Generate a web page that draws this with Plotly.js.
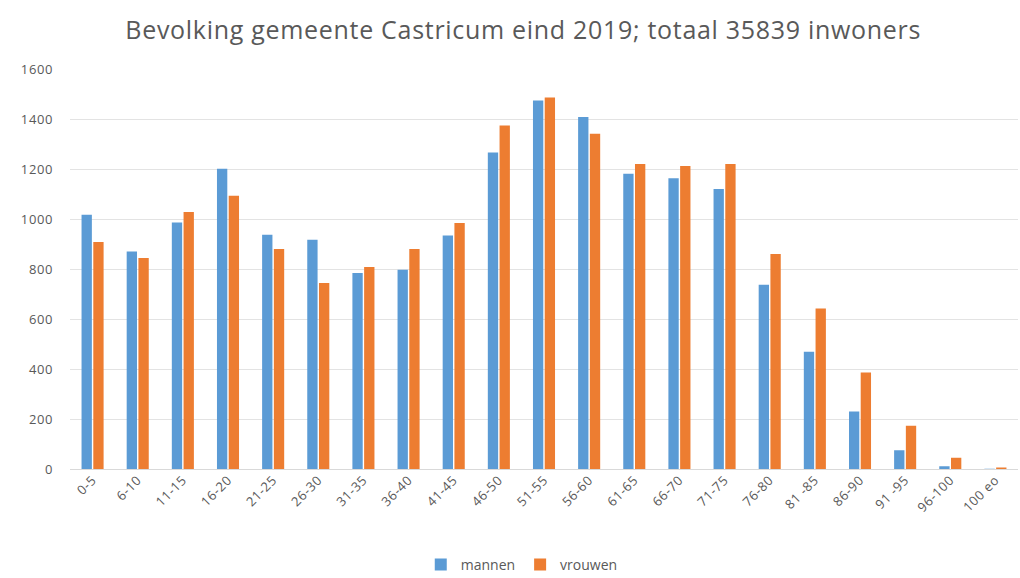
<!DOCTYPE html>
<html>
<head>
<meta charset="utf-8">
<script src="https://cdn.plot.ly/plotly-3.0.1.min.js"></script>
<style>html,body{margin:0;padding:0;background:#fff;}#chart{width:1020px;height:578px;}
.gtitle{letter-spacing:0.7px;}
.ytick text,.xtick text{letter-spacing:0.6px;}
</style>
</head>
<body>
<div id="chart"></div>
<script>
const categories = ["0-5","6-10","11-15","16-20","21-25","26-30","31-35","36-40","41-45","46-50","51-55","56-60","61-65","66-70","71-75","76-80","81 -85","86-90","91 -95","96-100","100 eo"];
const mannen = [1017,870,986,1201,937,917,784,797,934,1266,1474,1408,1181,1163,1120,737,469,230,75,11,1];
const vrouwen = [908,844,1028,1093,880,744,808,880,984,1374,1486,1341,1220,1212,1220,860,642,386,173,45,6];
const titleText = "Bevolking gemeente Castricum eind 2019; totaal 35839 inwoners";

const traces = [
  {type:"bar", name:"mannen", x:categories, y:mannen, marker:{color:"#5B9BD5"}},
  {type:"bar", name:"vrouwen", x:categories, y:vrouwen, marker:{color:"#ED7D31"}}
];
const layout = {
  width:1020, height:578,
  paper_bgcolor:"#fff", plot_bgcolor:"#fff",
  font:{family:"Open Sans, Liberation Sans, sans-serif", color:"#595959", size:13},
  title:{text:titleText, x:0.513, xanchor:"center", y:0.948, yanchor:"middle", font:{size:25, color:"#595959"}},
  margin:{l:70, r:2, t:69, b:109, autoexpand:false},
  barmode:"group", bargap:0.48, bargroupgap:0.12,
  xaxis:{type:"category", tickangle:-45, showgrid:false, showline:false, ticks:"", tickfont:{size:13, color:"#595959"}},
  yaxis:{range:[0,1600], dtick:200, showgrid:true, gridcolor:"#e3e3e3", zeroline:true, zerolinecolor:"#d9d9d9", showline:false, ticks:"", ticklabelstandoff:16, tickfont:{size:13, color:"#595959"}},
  legend:{orientation:"h", x:0.37, xanchor:"left", y:-0.24, yanchor:"middle", font:{size:14, color:"#595959"}, itemwidth:30},
  showlegend:true
};
Plotly.newPlot("chart", traces, layout, {displayModeBar:false, staticPlot:true});
</script>
</body>
</html>
